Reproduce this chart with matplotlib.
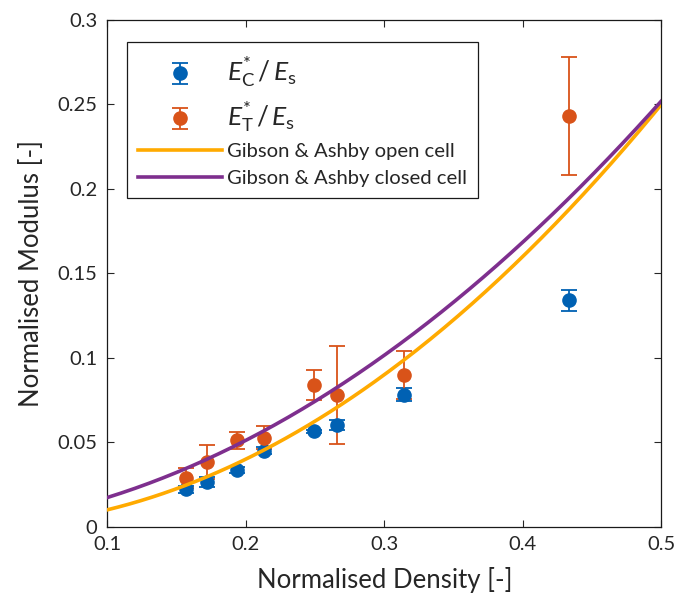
import numpy as np
import matplotlib
matplotlib.use("Agg")
import matplotlib.pyplot as plt
from matplotlib.ticker import FuncFormatter

plt.rcParams['font.family'] = ['Lato', 'DejaVu Sans']
plt.rcParams['mathtext.fontset'] = 'custom'
plt.rcParams['mathtext.rm'] = 'Lato'
plt.rcParams['mathtext.it'] = 'Lato:italic'

# relative density of the samples
rho = [0.1569, 0.1718, 0.1939, 0.2130, 0.2493, 0.2657, 0.3139, 0.4331]

# compressive modulus ratio E*_C / E_s
ec = [0.0221, 0.0267, 0.0336, 0.0450, 0.0565, 0.0602, 0.0782, 0.1340]
ec_err = [0.0020, 0.0030, 0.0020, 0.0020, 0.0010, 0.0030, 0.0037, 0.0060]

# tensile modulus ratio E*_T / E_s
et = [0.0290, 0.0383, 0.0511, 0.0526, 0.0838, 0.0781, 0.0898, 0.2433]
et_err = [0.0060, 0.0100, 0.0048, 0.0068, 0.0090, 0.0290, 0.0143, 0.0348]

# Gibson & Ashby constants
C1 = 1.0
phi = 0.91   # fraction of solid in the cell edges (closed cell)

blue = '#0061B3'
orange = '#D95319'
yellow = '#FFAA00'
purple = '#7E2F8E'
txt = '#262626'

fig = plt.figure(figsize=(6.9, 6.05), dpi=100)
ax = fig.add_axes([0.1555, 0.1294, 0.8029, 0.8375])

r = np.linspace(0.1, 0.5, 200)
open_cell = C1 * r**2
closed_cell = C1 * phi**2 * r**2 + (1 - phi) * r

hc = ax.errorbar(rho, ec, yerr=ec_err, fmt='o', color=blue, ms=9.5,
                 capsize=5.5, elinewidth=1.3, capthick=1.3, zorder=3)
ht = ax.errorbar(rho, et, yerr=et_err, fmt='o', color=orange, ms=9.5,
                 capsize=5.5, elinewidth=1.3, capthick=1.3, zorder=3)
lo, = ax.plot(r, open_cell, color=yellow, lw=2.6, zorder=4)
lc, = ax.plot(r, closed_cell, color=purple, lw=2.6, zorder=4)

ax.set_xlim(0.1, 0.5)
ax.set_ylim(0, 0.3)
ax.set_xticks(np.arange(0.1, 0.51, 0.1))
ax.set_yticks(np.arange(0, 0.301, 0.05))
fmt = FuncFormatter(lambda v, p: '%g' % round(v, 3))
ax.xaxis.set_major_formatter(fmt)
ax.yaxis.set_major_formatter(fmt)
ax.tick_params(direction='in', top=True, right=True, length=5, width=0.8,
               labelsize=14.5, colors=txt, pad=7)
for s in ax.spines.values():
    s.set_linewidth(0.9)
    s.set_color('#1a1a1a')

ax.set_xlabel('Normalised Density [-]', fontsize=18.5, color=txt, labelpad=10)
ax.set_ylabel('Normalised Modulus [-]', fontsize=18.5, color=txt, labelpad=10)

leg = ax.legend([hc, ht, lo, lc],
                [r'$E_{\mathrm{C}}^{*}\,/\,E_{\mathrm{s}}$',
                 r'$E_{\mathrm{T}}^{*}\,/\,E_{\mathrm{s}}$',
                 'Gibson & Ashby open cell',
                 'Gibson & Ashby closed cell'],
                loc='upper left', bbox_to_anchor=(0.036, 0.957),
                borderaxespad=0, fontsize=14.6, handlelength=4.1,
                handletextpad=0.25, labelspacing=0.45, borderpad=0.55,
                fancybox=False, framealpha=1, edgecolor='#1a1a1a')
leg.get_frame().set_linewidth(0.9)
for i, t in enumerate(leg.get_texts()):
    t.set_color(txt)
    if i < 2:
        t.set_fontsize(19)

fig.savefig('out.png', dpi=100)
